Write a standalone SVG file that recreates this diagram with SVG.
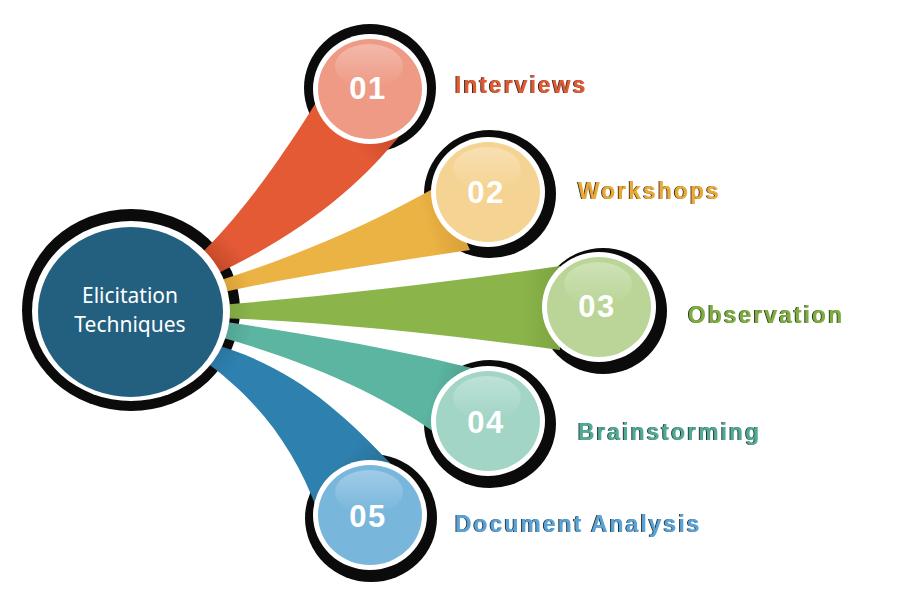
<svg xmlns="http://www.w3.org/2000/svg" width="900" height="604" viewBox="0 0 900 604">
<defs>
<style>
.blk{fill:#0c0b0b}
.wht{fill:#ffffff}
.num{font-family:"Liberation Sans",Arial,sans-serif;font-weight:bold;font-size:31px;fill:#ffffff;text-anchor:middle;letter-spacing:1.5px}
.lbl{font-family:"Liberation Sans",Arial,sans-serif;font-weight:bold;font-size:23px;letter-spacing:2px}
.main{font-family:"Noto Sans","Open Sans",sans-serif;font-size:21px;fill:#ffffff;text-anchor:middle}
</style>
<linearGradient id="gloss" x1="0" y1="0" x2="0" y2="1">
<stop offset="0" stop-color="#ffffff" stop-opacity="0.3"/>
<stop offset="1" stop-color="#ffffff" stop-opacity="0"/>
</linearGradient>
<linearGradient id="g1" gradientUnits="userSpaceOnUse" x1="215" y1="262" x2="370" y2="115">
<stop offset="0" stop-color="#c84a2a"/><stop offset="0.12" stop-color="#e35a35"/><stop offset="0.85" stop-color="#e35a35"/><stop offset="1" stop-color="#cc4b2b"/>
</linearGradient>
<linearGradient id="g2" gradientUnits="userSpaceOnUse" x1="225" y1="285" x2="455" y2="220">
<stop offset="0" stop-color="#d9a038"/><stop offset="0.1" stop-color="#ebb244"/><stop offset="0.88" stop-color="#ebb244"/><stop offset="1" stop-color="#daa23a"/>
</linearGradient>
<linearGradient id="g3" gradientUnits="userSpaceOnUse" x1="228" y1="310" x2="555" y2="308">
<stop offset="0" stop-color="#7ea542"/><stop offset="0.08" stop-color="#8bb54a"/><stop offset="0.9" stop-color="#8bb54a"/><stop offset="1" stop-color="#7ea542"/>
</linearGradient>
<linearGradient id="g4" gradientUnits="userSpaceOnUse" x1="228" y1="330" x2="460" y2="400">
<stop offset="0" stop-color="#52a592"/><stop offset="0.1" stop-color="#5bb5a0"/><stop offset="0.88" stop-color="#5bb5a0"/><stop offset="1" stop-color="#50a290"/>
</linearGradient>
<linearGradient id="g5" gradientUnits="userSpaceOnUse" x1="212" y1="355" x2="355" y2="488">
<stop offset="0" stop-color="#2a739d"/><stop offset="0.12" stop-color="#2e80ae"/><stop offset="0.85" stop-color="#2e80ae"/><stop offset="1" stop-color="#29739c"/>
</linearGradient>
<filter id="ts" x="-5%" y="-20%" width="110%" height="140%">
<feOffset in="SourceAlpha" dx="-1.2" dy="0" result="o"/>
<feFlood flood-color="#2b2b2b"/>
<feComposite in2="o" operator="in" result="s"/>
<feMerge><feMergeNode in="s"/><feMergeNode in="SourceGraphic"/></feMerge>
</filter>
</defs>
<rect width="900" height="604" fill="#ffffff"/>

<g id="shadows">
<ellipse class="blk" cx="131" cy="310" rx="109" ry="101"/>
<ellipse class="blk" cx="370" cy="88" rx="66" ry="64"/>
<ellipse class="blk" cx="490" cy="194" rx="66" ry="64"/>
<ellipse class="blk" cx="603" cy="311" rx="64" ry="63"/>
<ellipse class="blk" cx="490" cy="424" rx="66" ry="64"/>
<ellipse class="blk" cx="371" cy="518" rx="66" ry="64"/>
</g>

<g id="connectors">
<path fill="url(#g1)" d="M198,257 C230,225 265,185 320,96 L402,133 C362,182 310,230 212,276 Z"/>
<path fill="url(#g2)" d="M215,282 C290,258 360,230 440,185 L470,250 C390,262 300,275 215,294 Z"/>
<path fill="url(#g3)" d="M220,305 C330,296 450,282 560,266 L560,350 C450,335 330,322 220,318 Z"/>
<path fill="url(#g4)" d="M220,321 C320,336 400,350 480,370 L440,436 C390,400 320,365 220,337 Z"/>
<path fill="url(#g5)" d="M212,344 C290,365 340,410 392,465 L318,512 C295,450 260,400 200,358 Z"/>
</g>

<g id="main">
<ellipse class="wht" cx="131" cy="311" rx="99" ry="90"/>
<ellipse cx="130.5" cy="312" rx="92.5" ry="85" fill="#236080"/>
<text class="main" x="130" y="303">Elicitation</text>
<text class="main" x="130" y="332">Techniques</text>
</g>

<g id="n1">
<ellipse class="wht" cx="370" cy="89" rx="57" ry="55"/>
<ellipse cx="370" cy="89" rx="52" ry="50" fill="#ee9a85"/>
<ellipse cx="369" cy="66" rx="34" ry="22" fill="url(#gloss)"/>
<text class="num" x="368" y="99">01</text>
<text class="lbl" x="455" y="93" fill="#e05a33" filter="url(#ts)">Interviews</text>
</g>

<g id="n2">
<ellipse class="wht" cx="488" cy="192" rx="57" ry="55"/>
<ellipse cx="488" cy="192" rx="52" ry="50" fill="#f5d392"/>
<ellipse cx="487" cy="169" rx="34" ry="22" fill="url(#gloss)"/>
<text class="num" x="486" y="203">02</text>
<text class="lbl" x="578" y="199" fill="#e8a935" filter="url(#ts)">Workshops</text>
</g>

<g id="n3">
<ellipse class="wht" cx="599" cy="307" rx="57" ry="55"/>
<ellipse cx="599" cy="307" rx="52" ry="50" fill="#bad597"/>
<ellipse cx="598" cy="284" rx="34" ry="22" fill="url(#gloss)"/>
<text class="num" x="597" y="317">03</text>
<text class="lbl" x="688" y="323" fill="#7fae3f" filter="url(#ts)">Observation</text>
</g>

<g id="n4">
<ellipse class="wht" cx="488" cy="421" rx="57" ry="55"/>
<ellipse cx="488" cy="421" rx="52" ry="50" fill="#a2d5c6"/>
<ellipse cx="487" cy="398" rx="34" ry="22" fill="url(#gloss)"/>
<text class="num" x="486" y="433">04</text>
<text class="lbl" x="578" y="440" fill="#4faa96" filter="url(#ts)">Brainstorming</text>
</g>

<g id="n5">
<ellipse class="wht" cx="370" cy="515" rx="57" ry="55"/>
<ellipse cx="370" cy="515" rx="52" ry="50" fill="#78b6dc"/>
<ellipse cx="369" cy="492" rx="34" ry="22" fill="url(#gloss)"/>
<text class="num" x="368" y="527">05</text>
<text class="lbl" x="455" y="532" fill="#5aa3d6" filter="url(#ts)">Document Analysis</text>
</g>
</svg>
